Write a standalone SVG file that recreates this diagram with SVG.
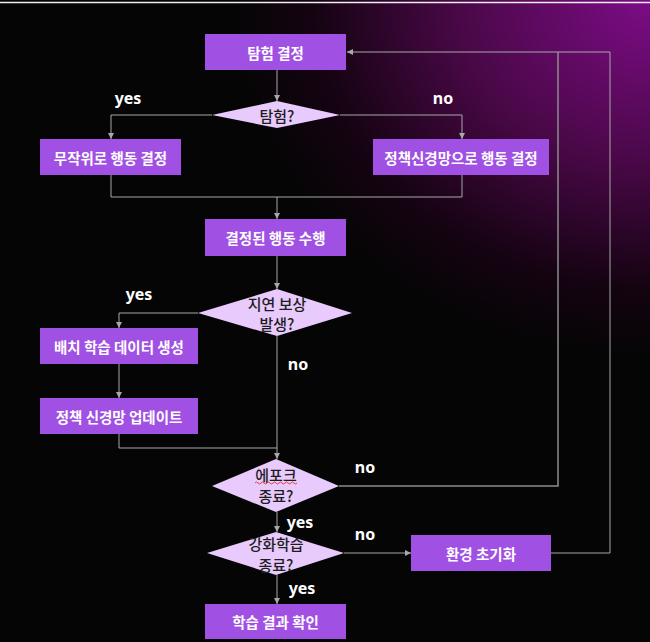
<svg xmlns="http://www.w3.org/2000/svg" width="650" height="642" viewBox="0 0 650 642">
<defs>
<radialGradient id="bg" cx="650" cy="0" r="420" gradientUnits="userSpaceOnUse" gradientTransform="translate(650 0) scale(1 0.85) translate(-650 0)">
<stop offset="0" stop-color="#7c0c86"/>
<stop offset="0.45" stop-color="#4a0848"/>
<stop offset="0.8" stop-color="#150312"/>
<stop offset="1" stop-color="#050505"/>
</radialGradient>
<marker id="ah" viewBox="0 0 10 10" refX="10" refY="5" markerWidth="6" markerHeight="6" orient="auto" markerUnits="userSpaceOnUse">
<path d="M0,0 L10,5 L0,10 z" fill="#a8a8a8"/>
</marker>
<style>
.box{fill:#a050e2;}
.dia{fill:#e8cafc;}
.bt{font-family:"Noto Sans CJK KR","Noto Sans",sans-serif;font-weight:700;font-size:14.5px;fill:#ffffff;text-anchor:middle;dominant-baseline:central;}
.dt{font-family:"Noto Sans CJK KR","Noto Sans",sans-serif;font-weight:500;font-size:15px;fill:#1e1e1e;text-anchor:middle;dominant-baseline:central;}
.lb{font-family:"Noto Sans","Liberation Sans",sans-serif;font-weight:700;font-size:16px;fill:#ffffff;text-anchor:middle;dominant-baseline:central;}
.ln{fill:none;stroke:#a8a8a8;stroke-width:1;}
</style>
</defs>
<rect width="650" height="642" fill="#070707"/>
<rect width="650" height="642" fill="url(#bg)"/>
<line x1="0" y1="2.5" x2="650" y2="2.5" stroke="#f0f0f0" stroke-width="1.5"/>

<g id="connectors">
<path class="ln" d="M277,70 V101" marker-end="url(#ah)"/>
<path class="ln" d="M212,115 H111 V139" marker-end="url(#ah)"/>
<path class="ln" d="M340,115 H462 V139" marker-end="url(#ah)"/>
<path class="ln" d="M111,175 V197 H462 V175"/>
<path class="ln" d="M277,197 V219" marker-end="url(#ah)"/>
<path class="ln" d="M277,256 V289" marker-end="url(#ah)"/>
<path class="ln" d="M198,313 H119 V328" marker-end="url(#ah)"/>
<path class="ln" d="M119,364 V398" marker-end="url(#ah)"/>
<path class="ln" d="M119,434 V448 H277"/>
<path class="ln" d="M277,336 V459" marker-end="url(#ah)"/>
<path class="ln" d="M339,486 H558 V52" style="stroke:#8c8c8c;stroke-width:1.5"/>
<path class="ln" d="M610,52 H347" marker-end="url(#ah)"/>
<path class="ln" d="M551,553 H610 V52"/>
<path class="ln" d="M277,512 V532" marker-end="url(#ah)"/>
<path class="ln" d="M344,553 H411" marker-end="url(#ah)"/>
<path class="ln" d="M277,575 V604" marker-end="url(#ah)"/>
<text class="lb" x="128" y="98">yes</text>
<text class="lb" x="443" y="98">no</text>
<text class="lb" x="139" y="294">yes</text>
<text class="lb" x="298" y="364">no</text>
<text class="lb" x="365" y="467">no</text>
<text class="lb" x="300" y="522">yes</text>
<text class="lb" x="365" y="534">no</text>
<text class="lb" x="302" y="588">yes</text>
</g>

<g id="n1"><rect class="box" x="205" y="34" width="141" height="36"/><text class="bt" x="275.5" y="52">탐험 결정</text></g>
<g id="n2"><polygon class="dia" points="212,115 277,101 340,115 277,128"/><text class="dt" x="277" y="115">탐험?</text></g>
<g id="n3"><rect class="box" x="40" y="139" width="141" height="36"/><text class="bt" x="110.5" y="157">무작위로 행동 결정</text></g>
<g id="n4"><rect class="box" x="373" y="139" width="176" height="36"/><text class="bt" x="461" y="157">정책신경망으로 행동 결정</text></g>
<g id="n5"><rect class="box" x="205" y="219" width="141" height="37"/><text class="bt" x="275.5" y="237.5">결정된 행동 수행</text></g>
<g id="n6"><polygon class="dia" points="198,313 277,289 352,313 277,336"/><text class="dt" x="277" y="303">지연 보상</text><text class="dt" x="277" y="323">발생?</text></g>
<g id="n7"><rect class="box" x="40" y="328" width="158" height="36"/><text class="bt" x="119" y="346">배치 학습 데이터 생성</text></g>
<g id="n8"><rect class="box" x="40" y="398" width="158" height="36"/><text class="bt" x="119" y="416">정책 신경망 업데이트</text></g>
<g id="n9"><polygon class="dia" points="212,486 276,459 339,486 276,512"/><text class="dt" x="276" y="474">에포크</text><path d="M255,483 q1.5,-2 3,0 t3,0 t3,0 t3,0 t3,0 t3,0 t3,0 t3,0 t3,0 t3,0 t3,0 t3,0 t3,0 t3,0" fill="none" stroke="#e03030" stroke-width="0.9"/><text class="dt" x="276" y="495">종료?</text></g>
<g id="n10"><polygon class="dia" points="207,553 276,532 344,553 276,575"/><text class="dt" x="276" y="543">강화학습</text><text class="dt" x="276" y="564">종료?</text></g>
<g id="n11"><rect class="box" x="411" y="535" width="140" height="36"/><text class="bt" x="481" y="553">환경 초기화</text></g>
<g id="n12"><rect class="box" x="205" y="604" width="141" height="35"/><text class="bt" x="275.5" y="621.5">학습 결과 확인</text></g>
</svg>
